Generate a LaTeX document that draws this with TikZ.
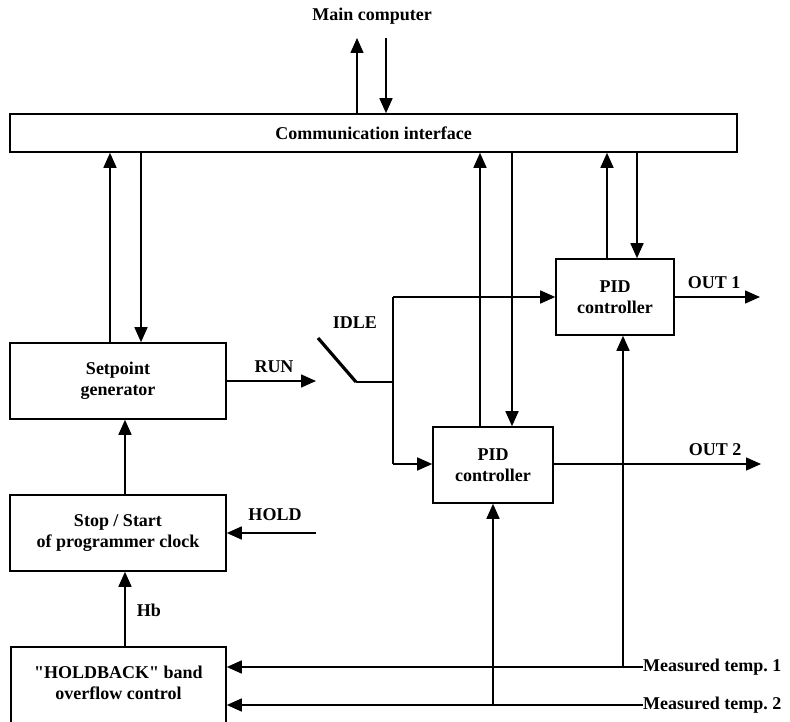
\documentclass[tikz,border=0pt]{standalone}
\usepackage{fontspec}
\setmainfont{Liberation Serif}[Ligatures=TeXOff]
\usetikzlibrary{arrows.meta}
\begin{document}
\begin{tikzpicture}[x=1pt,y=-1pt,
  every node/.style={font=\bfseries\fontsize{18}{21}\selectfont, align=center},
  blk/.style={draw, line width=1.6pt, inner sep=0pt},
  ln/.style={line width=1.6pt},
  arr/.style={line width=1.6pt, -{Triangle[length=15pt,width=13pt]}},
  lbl/.style={inner sep=0pt}]
\useasboundingbox (0,0) rectangle (790,722);
% blocks
\node[blk, minimum width=727pt, minimum height=38pt] (ci) at (373.5,133) {Communication interface};
\node[blk, minimum width=216pt, minimum height=76pt] (sp) at (118,381) {Setpoint\\generator};
\node[blk, minimum width=216pt, minimum height=76pt] (ss) at (118,533) {Stop / Start\\of programmer clock};
\node[blk, minimum width=215pt, minimum height=100pt] (hb) at (118.5,697) {};
\node[lbl] (hbt) at (118.5,683) {"HOLDBACK" band\\overflow control};
\node[blk, minimum width=118pt, minimum height=76pt] (p1) at (615,297) {PID\\controller};
\node[blk, minimum width=120pt, minimum height=76pt] (p2) at (493,465) {PID\\controller};
% labels
\node[lbl] (mc) at (372,16) {Main computer};
\node[lbl] (run) at (274,367) {RUN};
\node[lbl] (idle) at (355,323) {IDLE};
\node[lbl] (hold) at (275,515) {HOLD};
\node[lbl] (hbl) at (149,610) {Hb};
\node[lbl] (o1) at (714,283) {OUT 1};
\node[lbl] (o2) at (715,450) {OUT 2};
\node[lbl, anchor=west] (mt1) at (643,667) {Measured temp.\ 1};
\node[lbl, anchor=west] (mt2) at (643,705) {Measured temp.\ 2};
% free ends
\coordinate (mcUp) at (357,38);
\coordinate (mcDn) at (386,38);
\coordinate (runEnd) at (316,381);
\coordinate (swA) at (318,338);
\coordinate (swB) at (356,382);
\coordinate (jn) at (393,382);
\coordinate (jTop) at (393,297);
\coordinate (jBot) at (393,464);
\coordinate (o1End) at (760,297);
\coordinate (o2End) at (761,464);
\coordinate (holdStart) at (316,533);
% main computer
\draw[arr] (357,0 |- ci.north) -- (mcUp);
\draw[arr] (mcDn) -- (386,0 |- ci.north);
% setpoint <-> comm
\draw[arr] (110,0 |- sp.north) -- (110,0 |- ci.south);
\draw[arr] (141,0 |- ci.south) -- (141,0 |- sp.north);
% PID1 <-> comm
\draw[arr] (607,0 |- p1.north) -- (607,0 |- ci.south);
\draw[arr] (637,0 |- ci.south) -- (637,0 |- p1.north);
% PID2 <-> comm
\draw[arr] (480,0 |- p2.north) -- (480,0 |- ci.south);
\draw[arr] (512,0 |- ci.south) -- (512,0 |- p2.north);
% RUN / switch
\draw[arr] (sp.east |- runEnd) -- (runEnd);
\draw[line width=3.2pt] (swA) -- (swB);
\draw[ln] (swB) -- (jn);
\draw[ln] (jTop) -- (jBot);
\draw[arr] (jTop) -- (p1.west |- jTop);
\draw[arr] (jBot) -- (p2.west |- jBot);
% outputs
\draw[arr] (p1.east |- o1End) -- (o1End);
\draw[arr] (p2.east |- o2End) -- (o2End);
% left chain
\draw[arr] (125,0 |- ss.north) -- (125,0 |- sp.south);
\draw[arr] (holdStart) -- (ss.east |- holdStart);
\draw[arr] (125,0 |- hb.north) -- (125,0 |- ss.south);
% measured temps
\draw[arr] (mt1.west) -- (hb.east |- mt1.west);
\draw[arr] (mt2.west) -- (hb.east |- mt2.west);
\draw[arr] (623,0 |- mt1.west) -- (623,0 |- p1.south);
\draw[arr] (p2.south |- mt2.west) -- (p2.south);
\end{tikzpicture}
\end{document}
